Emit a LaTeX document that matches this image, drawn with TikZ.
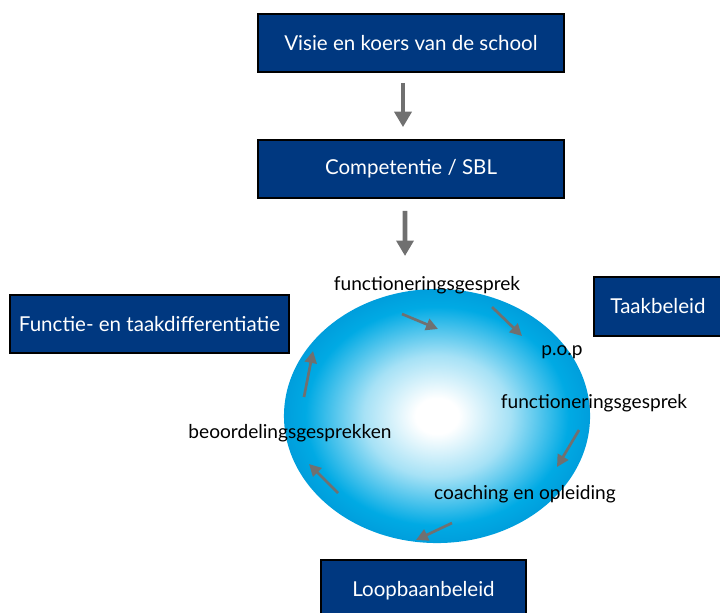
\documentclass[tikz,border=0pt]{standalone}
\usepackage{fontspec}
\setmainfont{Lato}
\usetikzlibrary{arrows.meta,shapes.geometric}
\definecolor{navy}{RGB}{0,56,128}
\definecolor{sky}{RGB}{0,170,228}
\definecolor{rim}{RGB}{0,158,220}
\definecolor{arrowgrey}{RGB}{112,112,112}
% white core fading out to sky blue
\pgfdeclareradialshading{glow}{\pgfpoint{0bp}{0bp}}{color(0bp)=(white); color(3.5bp)=(white); color(12bp)=(sky!35!white); color(21.5bp)=(sky); color(25bp)=(rim); color(50bp)=(rim)}
\tikzset{
  blok/.style={draw=black,line width=1.2pt,fill=navy,text=white,font=\fontsize{14.6}{17}\selectfont},
  stap/.style={font=\fontsize{13.6}{16}\selectfont,inner sep=0pt},
  pijl/.style={draw=arrowgrey,line width=3.4pt,-{Triangle[length=11pt,width=12pt]}},
  klein/.style={draw=arrowgrey,line width=1.9pt,-{Triangle[length=8.5pt,width=8.5pt]}},
}

\begin{document}
\begin{tikzpicture}[x=0.025cm,y=-0.025cm]
      \useasboundingbox (0,0) rectangle (720,612);

      % the cycle
      \node[ellipse,shading=glow,minimum width=7.65cm,minimum height=6.35cm,inner sep=0pt] (cirkel) at (437,416) {};

      % boxes
      \node[blok,minimum width=7.65cm,minimum height=1.45cm] (visie) at (411,43) {Visie en koers van de school};
      \node[blok,minimum width=7.65cm,minimum height=1.45cm] (sbl) at (411,169) {Competentie / SBL};
      \node[blok,minimum width=6.975cm,minimum height=1.45cm] (functie) at (149.5,324) {Functie- en taakdifferentiatie};
      \node[blok,minimum width=3.2cm,minimum height=1.475cm] (taak) at (658,306.5) {Taakbeleid};
      \node[blok,minimum width=5.125cm,minimum height=1.55cm] (loopbaan) at (423.5,591) {Loopbaanbeleid};

      \coordinate (in) at (405,256);
      \draw[pijl] ([xshift=-0.2cm,yshift=-0.25cm]visie.south) -- ([xshift=-0.2cm,yshift=0.3cm]sbl.north);
      \draw[pijl] ([xshift=-0.15cm,yshift=-0.3cm]sbl.south) -- (in);

      % steps around the cycle
      \node[stap] (fg1) at (427,285) {functioneringsgesprek};
      \node[stap] (pop) at (562,352) {p.o.p};
      \node[stap] (fg2) at (594,403) {functioneringsgesprek};
      \node[stap] (coach) at (525,494) {coaching en opleiding};
      \node[stap] (beoord) at (290,433) {beoordelingsgesprekken};

      \coordinate (a1) at (402,314); \coordinate (b1) at (438,329);
      \coordinate (a2) at (492,307); \coordinate (b2) at (522,336);
      \coordinate (a3) at (579,430); \coordinate (b3) at (557,467);
      \coordinate (a4) at (452,523); \coordinate (b4) at (416,540);
      \coordinate (a5) at (338,493); \coordinate (b5) at (309,464);
      \coordinate (a6) at (304,397); \coordinate (b6) at (313,351);
      \foreach \i in {1,...,6}
        \draw[klein] (a\i) -- (b\i);
\end{tikzpicture}
\end{document}
